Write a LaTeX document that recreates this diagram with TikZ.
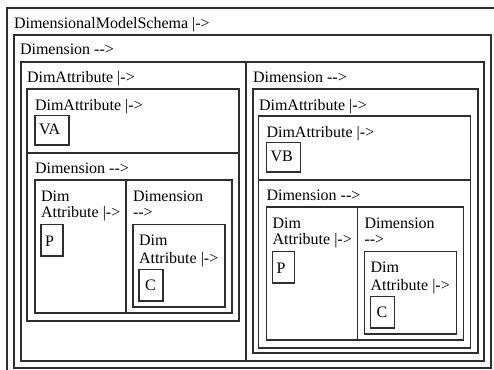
\documentclass[tikz,border=0pt]{standalone}
\usepackage{fontspec}
\setmainfont{Liberation Serif}[Ligatures=TeXOff]
\tikzset{
  box/.style={draw=black!82,line width=1.15pt},
  lbl/.style={anchor=base west,inner sep=0pt,outer sep=0pt,font=\fontsize{16}{18}\selectfont,text=black}
}
\newcommand\innertbl[3]{%
\begin{scope}[shift={(#1,#2)}, name prefix=#3-]
  \draw[box] (0,0) rectangle (212,232);
  \draw[box] (0,64) -- (212,64);
  \node[lbl] (ta) at (8,21) {DimAttribute |->};
  \draw[box] (8,26.7) rectangle (42,56);
  \node[lbl] (v) at (12,45.3) {V#3};
  \node[lbl] (tb) at (8,84) {Dimension -->};
  \draw[box] (8,91) rectangle (205,224);
  \draw[box] (99,91) -- (99,224);
  \node[lbl] (d1) at (14,112) {Dim};
  \node[lbl] (d2) at (14,128.5) {Attribute |->};
  \draw[box] (14,135.3) rectangle (36,167);
  \node[lbl] (p) at (18,157) {P};
  \node[lbl] (e1) at (106,112) {Dimension};
  \node[lbl] (e2) at (106,128.5) {-->};
  \draw[box] (106,135.3) rectangle (198,218);
  \node[lbl] (f1) at (112,156.5) {Dim};
  \node[lbl] (f2) at (112,174.3) {Attribute |->};
  \draw[box] (112,180.3) rectangle (136,212);
  \node[lbl] (c) at (118,201.5) {C};
\end{scope}}
\begin{document}
\begin{tikzpicture}[x=1pt,y=-1pt]
\useasboundingbox (0,0) rectangle (494,369);
\clip (0,0) rectangle (494,369);
\fill[white] (0,0) rectangle (494,369);
% level 0
\draw[box] (7,8) rectangle (505,380);
\node[lbl] (t0) at (14,28.3) {DimensionalModelSchema |->};
% level 1
\draw[box] (14,35) rectangle (491,368);
\node[lbl] (t1) at (20,55) {Dimension -->};
% level 2 row of two cells
\draw[box] (21,62) rectangle (484,361);
\draw[box] (246,62) -- (246,361);
\node[lbl] (t2) at (27,82.5) {DimAttribute |->};
\node[lbl] (t3) at (253,82.5) {Dimension -->};
% left column inner table
\innertbl{27}{89}{A}
% right column
\draw[box] (253,89) rectangle (478,353);
\node[lbl] (t4) at (259,110) {DimAttribute |->};
\innertbl{258.5}{116}{B}
\end{tikzpicture}
\end{document}
